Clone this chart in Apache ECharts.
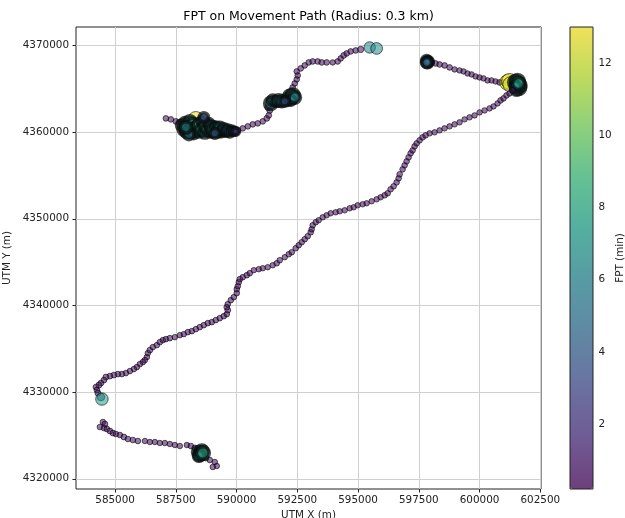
<!DOCTYPE html>
<html><head><meta charset="utf-8">
<script src="https://cdn.jsdelivr.net/npm/echarts@6/dist/echarts.min.js"></script>
<style>html,body{margin:0;padding:0;background:#fff}#c{width:625px;height:518px}</style>
</head><body><div id="c"></div>
<script>
// tick labels
const xTicks = [585000,587500,590000,592500,595000,597500,600000,602500];
const yTicks = [4320000,4330000,4340000,4350000,4360000,4370000];
const fptTicks = [2,4,6,8,10,12];

// moving track points: [UTM X (m), UTM Y (m), FPT (min)]
const westLead = [
 [587089,4361586,0.6],[587295,4361471,0.6],[587500,4361241,0.7],[587665,4361125,1.0],[588323,4361471,12.5]
];
const westToNorth = [
 [590050,4360203,0.8],[590255,4360434,0.6],[590461,4360664,0.6],[590666,4360895,0.6],[590872,4361010,0.6],[591078,4361241,0.6],[591242,4361586,0.7],[591324,4361932,0.7],[591365,4362508,0.8],[591283,4362854,0.8],[591365,4363200,1.0]
];
const northRidge = [
 [592270,4364698,0.8],[592311,4365159,0.7],[592393,4365620,0.6],[592476,4366081,0.6],[592517,4366542,0.6],[592476,4367004,0.6],[592640,4367349,0.6],[592805,4367695,0.6],[592969,4368041,0.6],[593134,4368156,0.6],[593339,4368156,0.6],[593504,4368041,0.6],[593709,4368041,0.6],[593956,4368041,0.5],[594162,4368156,0.6],[594285,4368502,0.6],[594408,4368848,0.7],[594532,4369078,0.6],[594696,4369309,0.6],[594902,4369424,0.6],[595107,4369539,1.0],[595477,4369770,6.0],[595765,4369654,6.5]
];
const northeastLeg = [
 [598027,4368041,0.8],[598191,4367926,0.6],[598356,4367810,0.6],[598561,4367695,0.6],[598767,4367465,0.6],[598973,4367234,0.5],[599178,4367119,0.5],[599343,4367004,0.5],[599507,4366773,0.5],[599672,4366658,0.5],[599836,4366427,0.5],[600001,4366312,0.5],[600165,4366197,0.5],[600330,4365966,0.5],[600494,4365966,0.5],[600659,4365851,0.5],[600823,4365736,0.6],[600987,4365736,0.8],
 [601152,4365736,12.5],[601234,4365851,12.8],[601275,4365505,12]
];
const mainDiagonal = [
 [586308,4334039,0.6],[586349,4334500,0.6],[586431,4334846,0.7],[586554,4335192,0.6],[586719,4335422,0.6],[586842,4335768,0.6],[586966,4335999,0.6],[587089,4336114,0.6],[587253,4336229,0.6],[587459,4336344,0.5],[587665,4336575,0.5],[587829,4336690,0.5],[587994,4336921,0.6],[588158,4337036,0.6],[588323,4337266,0.6],[588487,4337497,0.6],[588652,4337727,0.6],[588816,4337958,0.6],[588980,4338073,0.6],[589145,4338304,0.6],[589309,4338534,0.6],[589474,4338765,0.6],[589597,4338995,0.6],[589638,4339456,0.7],[589597,4339802,0.7],[589638,4340148,0.6],[589762,4340609,0.6],[589885,4340955,0.6],[590008,4341416,0.6],[590008,4341877,0.6],[590050,4342223,0.6],[590091,4342684,0.6],[590132,4343029,0.6],[590255,4343260,0.6],[590420,4343490,0.6],[590543,4343721,0.6],[590708,4344067,0.5],[590913,4344182,0.5],[591078,4344297,0.5],[591283,4344413,0.5],[591489,4344643,0.5],[591653,4344874,0.6],[591777,4345219,0.6],[591982,4345565,0.5],[592147,4345911,0.6],[592270,4346141,0.6],[592435,4346603,0.6],[592558,4346948,0.6],[592681,4347294,0.6],[592805,4347640,0.6],[592928,4347986,0.6],[593051,4348447,0.6],[593092,4348792,0.6],[593134,4349254,0.6],[593257,4349599,0.6],[593380,4349830,0.5],[593545,4350176,0.5],[593709,4350406,0.5],[593874,4350637,0.5],[594079,4350752,0.5],[594244,4350867,0.5],[594449,4350982,0.5],[594655,4351213,0.5],[594820,4351328,0.5],[594984,4351559,0.5],[595190,4351674,0.5],[595354,4351789,0.5],[595560,4352020,0.5],[595765,4352250,0.5],[595930,4352481,0.5],[596094,4352711,0.6],[596218,4352942,0.6],[596341,4353403,0.6],[596464,4353749,0.6],[596588,4354210,0.6],[596670,4354671,0.6],[596711,4355132,0.6],[596834,4355708,0.6],[596917,4356169,0.6],[596999,4356630,0.6],[597081,4357091,0.6],[597163,4357552,0.6],[597246,4357898,0.6],[597328,4358359,0.6],[597410,4358705,0.6],[597533,4359051,0.6],[597657,4359396,0.6],[597780,4359627,0.6],[597945,4359857,0.5],[598150,4359973,0.5],[598356,4360203,0.5],[598561,4360434,0.5],[598767,4360664,0.5],[598973,4360895,0.5],[599178,4361125,0.5],[599384,4361471,0.5],[599589,4361702,0.5],[599795,4361932,0.5],[600001,4362278,0.5],[600206,4362508,0.5],[600412,4362739,0.5],[600576,4362969,0.5],[600741,4363315,0.5],[600864,4363661,0.6],[600987,4363891,0.6],[601111,4364237,0.6],[601234,4364468,0.6]
];
const southwestLoop = [
 [586225,4333693,0.6],[586143,4333463,0.6],[586020,4333232,0.6],[585896,4332887,0.6],[585773,4332656,0.6],[585609,4332426,0.6],[585444,4332195,0.6],[585280,4332080,0.6],[585115,4332080,0.6],[584951,4331965,0.7],[584786,4331849,0.7],[584622,4331734,0.8],[584540,4331388,0.7],[584416,4331042,0.7],[584334,4330812,0.8],[584211,4330581,0.7],[584252,4330236,0.7],[584293,4329890,0.8],[584416,4329429,2.0],[584457,4329198,7.5]
];
const southLeg = [
 [584498,4326547,0.6],[584581,4326317,0.7],[584375,4325971,0.6],[584540,4325856,0.6],[584663,4325740,0.7],[584786,4325510,0.7],[584910,4325279,0.7],[585033,4325164,0.6],[585197,4325049,0.6],[585362,4324818,0.7],[585526,4324588,0.6],[585732,4324473,0.6],[585938,4324357,0.6],[586225,4324357,0.5],[586431,4324242,0.5],[586637,4324242,0.5],[586842,4324127,0.5],[587048,4324127,0.5],[587253,4324012,0.5],[587459,4323896,0.5],[587665,4323781,0.5],[587952,4323896,0.5],[588117,4323781,0.6],[588281,4323551,0.8]
];
const southTail = [
 [588610,4322628,1.5],[588734,4322398,0.8],[588898,4322167,0.6],[589104,4321937,0.5],[589022,4321361,0.6],[589186,4321476,0.5]
];

// stay sites (dense clusters of fixes): [UTM X (m), UTM Y (m), FPT (min)]
const westStay = [
 [587747,4360780,5],[587829,4360318,6],[587870,4361125,4],[587952,4360088,7],[587994,4360664,8],[588076,4361241,6],[588117,4360203,9],[588199,4360895,7],[588240,4359857,5],[588323,4360434,8],[588446,4360088,6],[588487,4360780,9],[588569,4360318,7],[588610,4361241,5],[588693,4359973,6],[588734,4360664,8],[588816,4360318,7],[588857,4361010,4],[588939,4360088,6],[588980,4360549,7],[589063,4360203,8],[589145,4360549,5],[589227,4360088,6],[589309,4360434,7],[589392,4360088,5],[589474,4360318,6],[589556,4360088,4],[589638,4360203,5],[589721,4359973,3.5],[589803,4360203,3],[589885,4360088,2.5],[589967,4360088,2],[588035,4359742,5],[587911,4360549,6],[589104,4359857,4],[588652,4361702,3.5]
];
const northStay = [
 [591407,4363315,7],[591489,4363661,5],[591612,4363546,4],[591736,4363661,6],[591859,4363546,5],[592106,4363776,6],[592188,4364122,7],[592270,4363891,5],[592311,4364237,8],[592229,4363661,4],[592393,4364007,6],[591982,4363546,3.5]
];
const northeastStay = [
 [597821,4368271,4],[597903,4368156,3.5],[597862,4368041,5],[597821,4368041,4.5]
];
const eastStay = [
 [601481,4365736,9],[601563,4365505,7],[601604,4365159,10],[601522,4364929,6],[601645,4365390,8],[601563,4365851,9],[601481,4365275,5],[601604,4365620,7]
];
const southStay = [
 [588405,4323089,5],[588487,4322744,6],[588569,4323205,7],[588528,4322859,4],[588446,4322628,5],[588610,4322974,8]
];
const eastTip = [[601358,4364814,0.6]];

const movingPts = [].concat(westLead, westToNorth, northRidge, northeastLeg, mainDiagonal, southwestLoop, southLeg, southTail);
const stayPts = [].concat(westStay, northStay, northeastStay, eastStay, southStay);

const viridis = ['#440154','#482878','#3e4989','#31688e','#26828e','#1f9e89','#35b779','#6ece58','#b5de2b','#fde725'];
function rgba(hex, a){
  const n = parseInt(hex.slice(1),16);
  return 'rgba(' + ((n>>16)&255) + ',' + ((n>>8)&255) + ',' + (n&255) + ',' + a + ')';
}
const FONT = 'DejaVu Sans';
const sizeFn = v => 4.24*Math.sqrt(1.18 + v[2]);
const chart = echarts.init(document.getElementById('c'), null, {renderer:'canvas', width:625, height:518});
chart.setOption({
  animation:false,
  backgroundColor:'#ffffff',
  graphic:[{type:'text', x:308.5, y:17, style:{text:'FPT on Movement Path (Radius: 0.3 km)', align:'center', verticalAlign:'middle', fontFamily:FONT, fontSize:12.5, fill:'#000'}}],
  grid:[
    {left:76, top:27, width:465, height:462, show:true, borderColor:'#222', borderWidth:1, backgroundColor:'transparent', containLabel:false, outerBoundsMode:'none'},
    {left:570, top:27, width:23, height:462, show:true, borderColor:'#222', borderWidth:1, backgroundColor:'transparent', z:10, containLabel:false, outerBoundsMode:'none'}
  ],
  xAxis:[
    {type:'value', gridIndex:0, min:583390, max:602530,
     axisLine:{show:false},
     axisTick:{show:true, length:3.5, lineStyle:{color:'#222'}, customValues:xTicks},
     axisLabel:{customValues:xTicks, formatter:v=>String(v), fontFamily:FONT, fontSize:10.4, color:'#222', margin:6},
     splitLine:{show:true, lineStyle:{color:'#d0d0d0', width:1}},
     name:'UTM X (m)', nameLocation:'middle', nameGap:20, nameTextStyle:{fontFamily:FONT, fontSize:10.4, color:'#222'}},
    {type:'value', gridIndex:1, min:0, max:1, show:false}
  ],
  yAxis:[
    {type:'value', gridIndex:0, min:4318820, max:4372130,
     axisLine:{show:false},
     axisTick:{show:true, length:3.5, lineStyle:{color:'#222'}, customValues:yTicks},
     axisLabel:{customValues:yTicks, formatter:v=>String(v), fontFamily:FONT, fontSize:10.4, color:'#222', margin:7},
     splitLine:{show:true, lineStyle:{color:'#d0d0d0', width:1}},
     name:'UTM Y (m)', nameLocation:'middle', nameGap:58, nameRotate:90, nameTextStyle:{fontFamily:FONT, fontSize:10.4, color:'#222'}},
    {type:'value', gridIndex:1, min:0.2, max:13, position:'right',
     axisLine:{show:false},
     axisTick:{show:true, length:3.5, lineStyle:{color:'#222'}, customValues:fptTicks},
     axisLabel:{customValues:fptTicks, fontFamily:FONT, fontSize:10.4, color:'#222', margin:5.5},
     splitLine:{show:false},
     name:'FPT (min)', nameLocation:'middle', nameGap:19, nameRotate:90, nameTextStyle:{fontFamily:FONT, fontSize:10.4, color:'#222'}}
  ],
  visualMap:[{type:'continuous', min:0.2, max:13, dimension:2, seriesIndex:[0,1,2],
    left:570, top:27, itemWidth:23, itemHeight:462, padding:0, calculable:false, hoverLink:false,
    inRange:{color: viridis.map(c=>rgba(c,0.7))}, textStyle:{fontSize:0}}],
  series:[
    {type:'scatter', xAxisIndex:0, yAxisIndex:0, data: movingPts.map(p=>[p[0],p[1],p[2]]),
     symbolSize:sizeFn, itemStyle:{borderColor:'rgba(0,0,0,0.75)', borderWidth:1},
     emphasis:{disabled:true}, silent:true},
    {type:'scatter', xAxisIndex:0, yAxisIndex:0, data: stayPts.map(p=>[p[0],p[1],p[2]]),
     symbolSize:sizeFn, itemStyle:{borderColor:'rgba(8,14,12,0.92)', borderWidth:3.6},
     emphasis:{disabled:true}, silent:true},
    {type:'scatter', xAxisIndex:0, yAxisIndex:0, data: eastTip.map(p=>[p[0],p[1],p[2]]),
     symbolSize:sizeFn, itemStyle:{borderColor:'rgba(0,0,0,0.75)', borderWidth:1},
     emphasis:{disabled:true}, silent:true}
  ]
});
</script></body></html>
